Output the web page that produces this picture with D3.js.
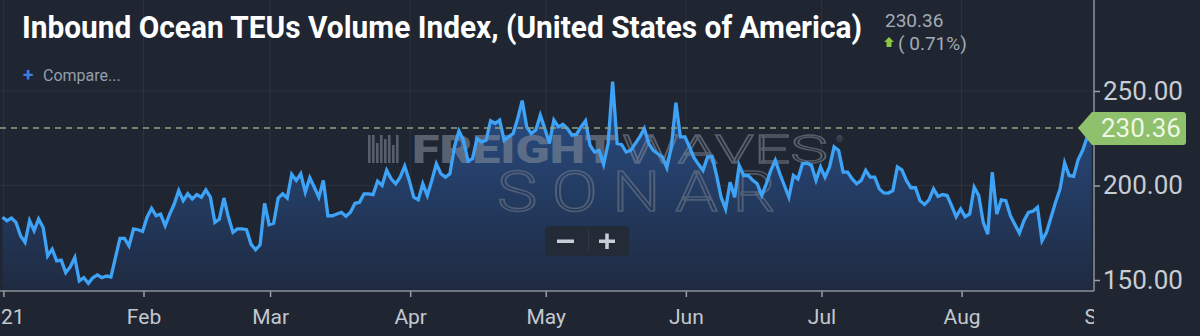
<!DOCTYPE html>
<meta charset="utf-8">

<!-- Load d3.js -->
<script src="https://d3js.org/d3.v7.min.js"></script>
<style>
body { margin: 0; background: #1f2632; }
svg text { font-family: Roboto, "Noto Sans", sans-serif; }
</style>
<body>
<!-- Create a div where the graph will take place -->
<div id="my_dataviz"></div>
<script>

// daily index values (first point is the evening of Dec 31)
var startDate = new Date(2020, 11, 31, 19);
var values = [
  183.2, 181.4, 182.8, 180.5, 173.4, 169.9, 181.4, 176.1, 182.3, 177.8,
  162.8, 166.3, 160.1, 160.5, 153.9, 156.9, 161.9, 149.5, 151.2, 148.2,
  151.2, 152.7, 151.2, 152.1, 151.6, 161.9, 172.0, 172.0, 168.1, 177.0,
  176.6, 175.7, 183.2, 187.9, 184.0, 184.9, 178.7, 184.9, 190.2, 197.3,
  192.0, 195.6, 192.9, 195.2, 193.8, 197.7, 193.8, 180.5, 182.3, 193.4,
  183.2, 175.2, 177.0, 177.0, 176.6, 169.0, 166.0, 168.6, 190.6, 179.3,
  180.0, 193.4, 195.6, 193.4, 205.9, 202.7, 206.2, 196.5, 204.1, 199.1,
  193.8, 202.7, 184.0, 184.0, 184.9, 185.8, 183.7, 185.8, 190.6, 191.1,
  195.6, 195.6, 195.2, 202.3, 200.0, 208.0, 203.5, 200.9, 204.4, 210.3,
  202.7, 193.8, 192.4, 200.9, 194.7, 202.7, 211.5, 206.2, 204.4, 206.2,
  220.4, 228.9, 223.9, 212.9, 214.2, 224.8, 223.1, 223.9, 234.2, 232.8,
  234.6, 223.9, 225.7, 227.5, 235.5, 244.9, 231.0, 227.5, 229.3, 237.2,
  230.1, 222.2, 234.6, 231.0,
  232.4, 230.1, 226.6, 227.0, 231.0, 234.2,
  221.3, 217.7, 218.6, 211.2, 222.2, 255.0, 222.2, 221.6, 217.7, 218.6,
  222.2, 225.7, 230.1, 222.2, 218.6, 216.8, 215.1, 209.4, 220.4, 243.8,
  225.7, 225.7, 220.4, 214.7, 211.2, 208.0, 215.1, 215.4, 205.3, 193.8,
  187.6, 201.8, 193.8, 210.6, 205.3, 205.3, 202.7, 200.9, 194.7, 200.9,
  208.0, 213.3, 206.2, 200.0, 193.8, 205.3, 203.5, 211.5, 211.9, 210.6,
  202.7, 209.8, 204.4, 209.8, 220.4, 218.6, 207.1, 207.1, 203.5, 200.9,
  202.7, 208.0, 204.4, 204.4, 198.2, 196.1, 196.0, 197.3, 209.8, 208.3,
  202.7, 198.8, 198.8, 192.0, 189.9, 192.4, 198.2, 194.2, 195.2, 194.7,
  189.4, 183.5, 187.6, 183.5, 184.9, 199.1, 194.7, 180.5, 174.3, 207.1,
  184.9, 192.4, 192.0, 184.0, 179.3, 174.8, 181.4, 185.8, 186.4, 188.5,
  170.8, 175.2, 183.2, 191.1, 198.2, 211.9, 205.3, 204.8, 213.7, 218.6,
  225.7, 230.36
];

var monthTicks = ["2021-01-01", "2021-02-01", "2021-03-01", "2021-04-01", "2021-05-01",
                  "2021-06-01", "2021-07-01", "2021-08-01", "2021-09-01"];
var monthLabels = ["2021", "Feb", "Mar", "Apr", "May", "Jun", "Jul", "Aug", "Sep"];
var yTicks = [150, 200, 250];

var title = "Inbound Ocean TEUs Volume Index, (United States of America)";
var lastValue = 230.36;
var changeText = "( 0.71%)";

// dimensions
var width = 1200, height = 336;
var plotRight = 1094, plotBottom = 291;

var svg = d3.select("#my_dataviz")
  .append("svg")
    .attr("width", width)
    .attr("height", height)
    .style("display", "block");

svg.append("rect")
  .attr("width", width)
  .attr("height", height)
  .attr("fill", "#1f2632");

var parse = d3.timeParse("%Y-%m-%d");
var tickDates = monthTicks.map(parse);

var data = values.map(function(v, i) {
  return { date: d3.timeDay.offset(startDate, i), value: v };
});

// scales
var x = d3.scaleTime()
  .domain([tickDates[0], tickDates[tickDates.length - 1]])
  .range([3.4, 1101.7]);

var y = d3.scaleLinear()
  .domain([150, 250])
  .range([280, 91]);

// squeeze/stretch a text so it covers a given width
function fitText(sel, x0, y0, w) {
  var len = sel.node().getComputedTextLength();
  sel.attr("transform", "translate(" + x0 + "," + y0 + ") scale(" + (w / len) + ",1)");
}

var defs = svg.append("defs");
defs.append("clipPath").attr("id", "plotClip")
  .append("rect").attr("x", 0).attr("y", 0).attr("width", plotRight).attr("height", plotBottom);
defs.append("clipPath").attr("id", "axisClip")
  .append("rect").attr("x", 0).attr("y", -5).attr("width", plotRight).attr("height", 50);

var grad = defs.append("linearGradient")
  .attr("id", "areaFill")
  .attr("gradientUnits", "userSpaceOnUse")
  .attr("x1", 0).attr("x2", 0)
  .attr("y1", 80).attr("y2", plotBottom);
grad.append("stop").attr("offset", "0%").attr("stop-color", "#29508a");
grad.append("stop").attr("offset", "100%").attr("stop-color", "#1f2a40");

var plot = svg.append("g").attr("clip-path", "url(#plotClip)");

// grid lines
plot.selectAll(".vgrid")
  .data(tickDates)
  .enter()
  .append("line")
    .attr("x1", function(d) { return x(d); })
    .attr("x2", function(d) { return x(d); })
    .attr("y1", 0)
    .attr("y2", plotBottom)
    .attr("stroke", "rgba(255,255,255,0.06)");

plot.selectAll(".hgrid")
  .data(yTicks)
  .enter()
  .append("line")
    .attr("x1", 0)
    .attr("x2", plotRight)
    .attr("y1", function(d) { return y(d); })
    .attr("y2", function(d) { return y(d); })
    .attr("stroke", "rgba(255,255,255,0.05)");

// area under the line
var area = d3.area()
  .x(function(d) { return x(d.date); })
  .y0(plotBottom)
  .y1(function(d) { return y(d.value); });

plot.append("path")
  .datum(data)
  .attr("d", area)
  .attr("fill", "url(#areaFill)");

// watermark (one text element, three words)
var wm = svg.append("g").attr("opacity", 0.6);
var barHeights = [28, 28, 20, 28, 24, 28, 18, 28];
wm.selectAll(".logo")
  .data(barHeights)
  .enter()
  .append("rect")
    .attr("x", function(d, i) { return 368 + i * 4; })
    .attr("y", function(d) { return 163 - d; })
    .attr("width", 2.6)
    .attr("height", function(d) { return d; })
    .attr("fill", "#7d8694");
var wmText = wm.append("text");
wmText.append("tspan")
  .attr("x", 412).attr("y", 163)
  .attr("textLength", 204).attr("lengthAdjust", "spacingAndGlyphs")
  .style("font-size", "39px").style("font-weight", "900")
  .attr("fill", "#808997")
  .text("FREIGHT");
wmText.append("tspan")
  .attr("x", 622).attr("y", 163)
  .attr("textLength", 206).attr("lengthAdjust", "spacingAndGlyphs")
  .style("font-size", "39px").style("font-weight", "300")
  .attr("fill", "none")
  .attr("stroke", "#7d8694")
  .attr("stroke-width", 1.3)
  .text("WAVES");
wmText.append("tspan")
  .attr("x", 836).attr("y", 142)
  .style("font-size", "9px")
  .attr("fill", "#7d8694")
  .text("®");
wmText.append("tspan")
  .attr("x", 497).attr("y", 211)
  .attr("textLength", 293).attr("lengthAdjust", "spacingAndGlyphs")
  .style("font-size", "56px").style("font-weight", "300")
  .attr("fill", "none")
  .attr("stroke", "#6f7887")
  .attr("stroke-width", 1.6)
  .attr("letter-spacing", "12px")
  .text("SONAR");

// line
var line = d3.line()
  .x(function(d) { return x(d.date); })
  .y(function(d) { return y(d.value); });

svg.append("path")
  .datum(data)
  .attr("clip-path", "url(#plotClip)")
  .attr("d", line)
  .attr("fill", "none")
  .attr("stroke", "#3ea3f7")
  .attr("stroke-width", 3.3)
  .attr("stroke-linejoin", "miter");

// last value dashed line
svg.append("line")
  .attr("x1", 0)
  .attr("x2", 1080)
  .attr("y1", y(lastValue))
  .attr("y2", y(lastValue))
  .attr("stroke", "#93a37f")
  .attr("stroke-width", 1.5)
  .attr("stroke-dasharray", "6,5");

// zoom buttons
var zb = svg.append("g");
zb.append("rect")
  .attr("x", 545).attr("y", 226).attr("width", 84).attr("height", 30).attr("rx", 4)
  .attr("fill", "#232b37");
zb.append("line")
  .attr("x1", 588.5).attr("x2", 588.5).attr("y1", 230).attr("y2", 252)
  .attr("stroke", "#2f3846");
zb.append("rect")
  .attr("x", 557).attr("y", 239.5).attr("width", 17).attr("height", 3.5)
  .attr("fill", "#c9ced6");
zb.append("rect")
  .attr("x", 599).attr("y", 239.5).attr("width", 16).attr("height", 3.5)
  .attr("fill", "#c9ced6");
zb.append("rect")
  .attr("x", 605.25).attr("y", 233.5).attr("width", 3.5).attr("height", 15.5)
  .attr("fill", "#c9ced6");

// X axis
var xAxis = svg.append("g")
  .attr("transform", "translate(0," + plotBottom + ")")
  .attr("clip-path", "url(#axisClip)")
  .call(d3.axisBottom(x)
    .tickValues(tickDates)
    .tickFormat(function(d, i) { return monthLabels[i]; })
    .tickSize(6)
    .tickPadding(12));
xAxis.select(".domain").remove();
xAxis.selectAll("line").attr("stroke", "#9aa0a8").attr("stroke-width", 1.5);
xAxis.selectAll("text")
  .attr("fill", "#c3c8d0")
  .style("font-size", "21px")
  .attr("dx", function(d, i) { return i === 0 ? -3 : 0; });

svg.append("line")
  .attr("x1", 0).attr("x2", plotRight)
  .attr("y1", plotBottom).attr("y2", plotBottom)
  .attr("stroke", "#8d939c").attr("stroke-width", 1.5);

// Y axis on the right
var yAxis = svg.append("g")
  .attr("transform", "translate(" + plotRight + ",0)")
  .call(d3.axisRight(y)
    .tickValues(yTicks)
    .tickFormat(d3.format(".2f"))
    .tickSize(6)
    .tickPadding(3));
yAxis.select(".domain").remove();
yAxis.selectAll("line").attr("stroke", "#9aa0a8").attr("stroke-width", 1.5);
yAxis.selectAll("text")
  .attr("fill", "#c8ccd3")
  .style("font-size", "26px");

svg.append("line")
  .attr("x1", plotRight).attr("x2", plotRight)
  .attr("y1", 0).attr("y2", plotBottom)
  .attr("stroke", "#8d939c").attr("stroke-width", 1.5);

// last value tag
var ty = y(lastValue);
svg.append("path")
  .attr("d", "M1078," + ty + " L1092," + (ty - 16) + " L1183," + (ty - 16) +
             " Q1186," + (ty - 16) + " 1186," + (ty - 13) + " L1186," + (ty + 14) +
             " Q1186," + (ty + 17) + " 1183," + (ty + 17) + " L1092," + (ty + 17) + " Z")
  .attr("fill", "#8fc06c");
svg.append("text")
  .attr("x", 1101)
  .attr("y", ty + 9)
  .attr("fill", "#eef7e6")
  .style("font-size", "26px")
  .text(d3.format(".2f")(lastValue));

// title and legend
var titleText = svg.append("text")
  .attr("fill", "#ffffff")
  .style("font-size", "32px")
  .style("font-weight", "bold")
  .text(title);
fitText(titleText, 22, 38, 840);

svg.append("text")
  .attr("x", 885)
  .attr("y", 27)
  .attr("fill", "#a3abb6")
  .style("font-size", "19px")
  .text(d3.format(".2f")(lastValue));

svg.append("path")
  .attr("d", "M889,37 L894,42 L891.5,42 L891.5,47 L886.5,47 L886.5,42 L884,42 Z")
  .attr("fill", "#8dc63f");

svg.append("text")
  .attr("x", 898)
  .attr("y", 50)
  .attr("fill", "#a3abb6")
  .style("font-size", "19px")
  .text(changeText);

svg.append("text")
  .attr("x", 23)
  .attr("y", 81)
  .attr("fill", "#3b7fe0")
  .style("font-size", "19px")
  .style("font-weight", "bold")
  .text("+");

svg.append("text")
  .attr("x", 43)
  .attr("y", 81)
  .attr("fill", "#959eaa")
  .style("font-size", "16px")
  .text("Compare...");

</script>
</body>
